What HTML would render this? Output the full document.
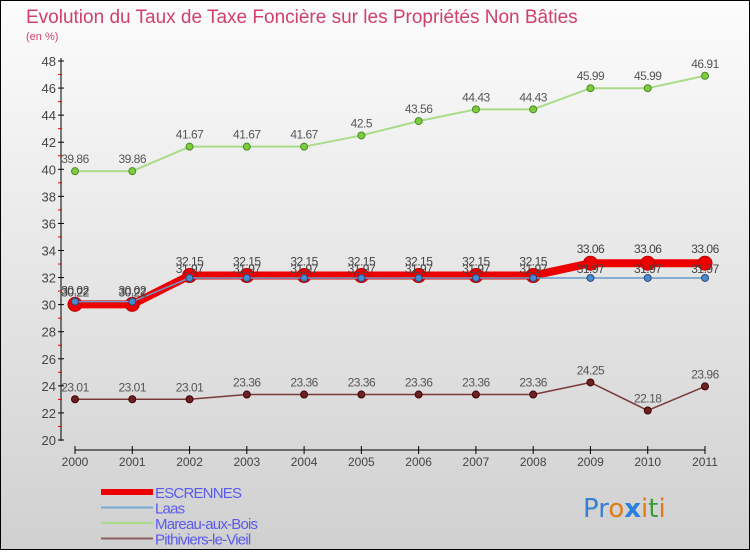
<!DOCTYPE html>
<html><head><meta charset="utf-8"><style>
body{margin:0;width:750px;height:550px;overflow:hidden;font-family:"Liberation Sans",sans-serif}
</style></head><body>
<svg width="750" height="550" xmlns="http://www.w3.org/2000/svg">
<defs><linearGradient id="bg" x1="0" y1="0" x2="0" y2="1"><stop offset="0" stop-color="#fcfcfc"/><stop offset="1" stop-color="#d0d0d0"/></linearGradient></defs>
<rect x="0.5" y="0.5" width="749" height="549" fill="url(#bg)" stroke="#000"/>
<text x="26" y="23" font-size="19" fill="#d0406a">Evolution du Taux de Taxe Foncière sur les Propriétés Non Bâties</text>
<text x="26" y="40" font-size="11" fill="#d0406a">(en %)</text>
<g id="axes"></g><g id="series"></g><g id="legend"></g>
<text x="583" y="517" font-size="26" font-family="DejaVu Sans,sans-serif"><tspan fill="#3a7fd0">Pr</tspan><tspan fill="#e07b1a">o</tspan><tspan fill="#2a7fe0" font-weight="bold">x</tspan><tspan fill="#e07b1a">i</tspan><tspan fill="#3a9a3a">t</tspan><tspan fill="#e07b1a">i</tspan></text>
</svg>
<script>
const years=[2000,2001,2002,2003,2004,2005,2006,2007,2008,2009,2010,2011];
const escrennes=[30.02,30.02,32.15,32.15,32.15,32.15,32.15,32.15,32.15,33.06,33.06,33.06];
const laas=[30.22,30.22,31.97,31.97,31.97,31.97,31.97,31.97,31.97,31.97,31.97,31.97];
const mareau=[39.86,39.86,41.67,41.67,41.67,42.5,43.56,44.43,44.43,45.99,45.99,46.91];
const pithiviers=[23.01,23.01,23.01,23.36,23.36,23.36,23.36,23.36,23.36,24.25,22.18,23.96];
const yTicks=[20,22,24,26,28,30,32,34,36,38,40,42,44,46,48];
const NS="http://www.w3.org/2000/svg";
const x=i=>75+i*(630/11);
const y=v=>440-(v-20)*(379/28);
function mk(t,a,p){const e=document.createElementNS(NS,t);for(const k in a)e.setAttribute(k,a[k]);p.appendChild(e);return e;}
const ax=document.getElementById('axes');
const yl=mk('line',{x1:61,y1:58,x2:61,y2:441,stroke:'#000'},ax);


yTicks.forEach(v=>{
 mk('line',{x1:58,x2:64,y1:y(v),y2:y(v),stroke:'#000'},ax);
 if(v<48)mk('line',{x1:58,x2:62,y1:y(v+1),y2:y(v+1),stroke:'#e00'},ax);
 const t=mk('text',{x:56,y:y(v)+5,'font-size':13,fill:'#444','text-anchor':'end'},ax);t.textContent=v;
 
 
});
const xl=mk('line',{x1:75,y1:450,x2:705,y2:450,stroke:'#000'},ax);


years.forEach((yr,i)=>{
 mk('line',{x1:x(i),x2:x(i),y1:446,y2:454,stroke:'#000'},ax);
 const t=mk('text',{x:x(i),y:466,'font-size':12,fill:'#444','text-anchor':'middle'},ax);t.textContent=yr;
 
 
});
const sg=document.getElementById('series');
function series(data,name,color,w,r,dot,dotStroke,labelColor,labelDy){
 const g=mk('g',{},sg);
 
 
 mk('polyline',{points:data.map((v,i)=>x(i)+','+y(v)).join(' '),fill:'none',stroke:color,'stroke-width':w,'stroke-linejoin':'round'},g);
 data.forEach((v,i)=>{
  const c=mk('circle',{cx:x(i),cy:y(v),r:r,fill:dot,stroke:dotStroke,'stroke-width':1},g);
  
  
  const t=mk('text',{x:x(i),y:y(v)+labelDy,'font-size':12,fill:labelColor,'text-anchor':'middle','letter-spacing':'-0.5'},g);t.textContent=v;
  
  
 });
}
series(mareau,'mareau-aux-bois','#a8dc88',2,3.5,'#7ccc3c','#4a8a2a','#555',-8);
series(pithiviers,'pithiviers-le-vieil','#7a3a3a',1.5,3.5,'#6a2222','#400','#555',-8);
series(escrennes,'escrennes','#ee0000',8,7,'#ee0000','#b00','#444',-10);
series(laas,'laas','#6a9ac8',1.5,3.5,'#4a8ad0','#2a4a7a','#444',-5);
const lg=document.getElementById('legend');
const items=[['ESCRENNES','#ee0000',6],['Laas','#7aaad0',2],['Mareau-aux-Bois','#a8dc88',2],['Pithiviers-le-Vieil','#8a6060',2]];
items.forEach((it,i)=>{
 const yy=492+i*15.5;
 const l=mk('line',{x1:101,x2:153,y1:yy,y2:yy,stroke:it[1],'stroke-width':it[2]},lg);
 
 
 const t=mk('text',{x:155,y:yy+6,'font-size':15,fill:'#5a5aee','letter-spacing':'-0.8'},lg);t.textContent=it[0];
 
 
});
</script>
</body></html>
